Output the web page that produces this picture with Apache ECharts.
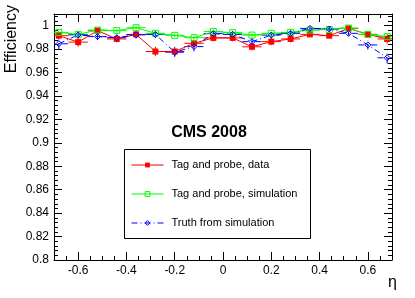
<!DOCTYPE html>
<html>
<head>
<meta charset="utf-8">
<script src="https://cdn.jsdelivr.net/npm/echarts@6/dist/echarts.min.js"></script>
<style>html,body{margin:0;padding:0;background:#fff;}#c{width:415px;height:298px;}</style>
</head>
<body>
<div id="c"></div>
<script>
// ---- data ----
const etaBins = [-0.68,-0.60,-0.52,-0.44,-0.36,-0.28,-0.20,-0.12,-0.04,0.04,0.12,0.20,0.28,0.36,0.44,0.52,0.60,0.68];
const etaHalfWidth = [0.04,0.04,0.04,0.04,0.04,0.04,0.04,0.04,0.04,0.04,0.04,0.04,0.04,0.04,0.04,0.04,0.04,0.04];
const tpData    = [0.9915,0.9860,0.9958,0.9887,0.9926,0.9780,0.9780,0.9850,0.9896,0.9896,0.9820,0.9864,0.9887,0.9926,0.9915,0.9977,0.9926,0.9887];
const tpDataErr = [0.003,0.004,0.002,0.003,0.003,0.004,0.004,0.003,0.003,0.003,0.003,0.003,0.003,0.002,0.002,0.002,0.003,0.004];
const tpSim     = [0.9943,0.9926,0.9963,0.9958,0.9983,0.9935,0.9918,0.9898,0.9950,0.9941,0.9920,0.9935,0.9943,0.9963,0.9968,0.9980,0.9926,0.9907];
const tpSimErr  = [0.0015,0.0015,0.0015,0.0015,0.0015,0.0015,0.0015,0.0015,0.0015,0.0015,0.0015,0.0015,0.0015,0.0015,0.0015,0.0015,0.0015,0.0015];
const truthSim  = [0.9846,0.9922,0.9907,0.9898,0.9922,0.9926,0.9774,0.9822,0.9932,0.9926,0.9864,0.9920,0.9935,0.9977,0.9972,0.9935,0.9836,0.9726];
const truthErr  = [0.005,0.003,0.003,0.003,0.003,0.003,0.004,0.004,0.003,0.002,0.003,0.003,0.002,0.002,0.002,0.002,0.004,0.005];
const seriesNames = ['Tag and probe, data','Tag and probe, simulation','Truth from simulation'];
const xTickLabels = [-0.6,-0.4,-0.2,0,0.2,0.4,0.6];
const yTickLabels = [0.8,0.82,0.84,0.86,0.88,0.9,0.92,0.94,0.96,0.98,1];
const xMin = -0.7, xMax = 0.7, yMin = 0.8, yMax = 1.01;

// minor tick positions
const xMinor = [];
for (let k = -14; k <= 14; k++) { if (k % 4 !== 0) xMinor.push(+(k*0.05).toFixed(3)); }
const yMinor = [];
for (let k = 0; k <= 52; k++) { if (k % 5 !== 0) yMinor.push(+(0.8 + k*0.004).toFixed(4)); }

const FONT = 'Liberation Sans';
const RED = '#ff0000', GREEN = '#00ff00', BLUE = '#0000ff';
const DASHDOT = [6,3,1,3];

function rows(vals, errs) {
  return etaBins.map((x,i) => [x, vals[i], etaHalfWidth[i], errs[i]]);
}
function errSeries(vals, errs, color, dash) {
  return {
    type: 'custom', xAxisIndex: 0, yAxisIndex: 0, clip: true, silent: true,
    data: rows(vals, errs),
    renderItem: function(params, api) {
      const x = api.value(0), y = api.value(1), ex = api.value(2), ey = api.value(3);
      const a = api.coord([x-ex, y]), b = api.coord([x+ex, y]);
      const c = api.coord([x, y-ey]), d = api.coord([x, y+ey]);
      const st = {stroke: color, lineWidth: 1, lineDash: dash || null, fill: null};
      return {type:'group', children:[
        {type:'line', shape:{x1:a[0],y1:a[1],x2:b[0],y2:b[1]}, style:st},
        {type:'line', shape:{x1:c[0],y1:c[1],x2:d[0],y2:d[1]}, style:st}
      ]};
    }
  };
}
function lineSeries(name, vals, color, symbol, filled, dash) {
  return {
    name: name, type: 'line', xAxisIndex: 0, yAxisIndex: 0,
    data: etaBins.map((x,i) => [x, vals[i]]),
    symbol: symbol, symbolSize: 6, showAllSymbol: true,
    lineStyle: {color: color, width: 1, type: dash || 'solid'},
    itemStyle: filled ? {color: color, borderWidth: 0} : {color: 'transparent', borderColor: color, borderWidth: 1},
    emphasis: {disabled: true}, animation: false
  };
}

function axisBase(extra) {
  return Object.assign({
    type: 'value', splitLine: {show: false},
    axisLine: {show: true, onZero: false, lineStyle: {color: '#000', width: 1}},
    axisLabel: {show: false},
    axisTick: {show: true, inside: true, length: 8, lineStyle: {color: '#000', width: 1}}
  }, extra);
}

const chart = echarts.init(document.getElementById('c'), null, {renderer: 'canvas'});
chart.setOption({
  animation: false,
  backgroundColor: '#fff',
  grid: [
    {left: 54, right: 23, top: 14, bottom: 38},
    {left: 54, right: 23, top: 14, bottom: 38}
  ],
  xAxis: [
    axisBase({gridIndex: 0, position: 'bottom', min: xMin, max: xMax,
      axisTick: {show: true, inside: true, length: 8, customValues: xTickLabels, lineStyle: {color: '#000'}},
      axisLabel: {show: true, customValues: xTickLabels, margin: 5, color: '#000', fontSize: 12, fontFamily: FONT}}),
    axisBase({gridIndex: 0, position: 'top', min: xMin, max: xMax,
      axisTick: {show: true, inside: true, length: 8, customValues: xTickLabels, lineStyle: {color: '#000'}}}),
    axisBase({gridIndex: 1, position: 'bottom', min: xMin, max: xMax, axisLine: {show: false, onZero: false},
      axisTick: {show: true, inside: true, length: 4, customValues: xMinor, lineStyle: {color: '#000'}}}),
    axisBase({gridIndex: 1, position: 'top', min: xMin, max: xMax, axisLine: {show: false, onZero: false},
      axisTick: {show: true, inside: true, length: 4, customValues: xMinor, lineStyle: {color: '#000'}}})
  ],
  yAxis: [
    axisBase({gridIndex: 0, position: 'left', min: yMin, max: yMax,
      axisTick: {show: true, inside: true, length: 8, customValues: yTickLabels, lineStyle: {color: '#000'}},
      axisLabel: {show: true, customValues: yTickLabels, margin: 5, color: '#000', fontSize: 12, fontFamily: FONT}}),
    axisBase({gridIndex: 0, position: 'right', min: yMin, max: yMax,
      axisTick: {show: true, inside: true, length: 8, customValues: yTickLabels, lineStyle: {color: '#000'}}}),
    axisBase({gridIndex: 1, position: 'left', min: yMin, max: yMax, axisLine: {show: false, onZero: false},
      axisTick: {show: true, inside: true, length: 4, customValues: yMinor, lineStyle: {color: '#000'}}}),
    axisBase({gridIndex: 1, position: 'right', min: yMin, max: yMax, axisLine: {show: false, onZero: false},
      axisTick: {show: true, inside: true, length: 4, customValues: yMinor, lineStyle: {color: '#000'}}})
  ],
  legend: {
    data: [
      {name: seriesNames[0], itemStyle: {color: RED, borderWidth: 0}, lineStyle: {color: RED, width: 1, type: 'solid'}},
      {name: seriesNames[1], itemStyle: {color: 'transparent', borderColor: GREEN, borderWidth: 1}, lineStyle: {color: GREEN, width: 1, type: 'solid'}},
      {name: seriesNames[2], itemStyle: {color: 'transparent', borderColor: BLUE, borderWidth: 1}, lineStyle: {color: BLUE, width: 1, type: DASHDOT}}
    ],
    orient: 'vertical', left: 131, top: 158, padding: 0,
    itemWidth: 32, itemHeight: 6, itemGap: 15, selectedMode: false,
    lineStyle: {width: 1},
    textStyle: {fontSize: 11, fontFamily: FONT, color: '#000', lineHeight: 14, padding: [0,0,0,3]}
  },
  graphic: [
    {type: 'rect', shape: {x: 124.5, y: 149.5, width: 186, height: 89}, style: {fill: null, stroke: '#000', lineWidth: 1}, z: 10},
    {type: 'text', x: 209, y: 133, style: {text: 'CMS 2008', font: 'bold 16px "Liberation Sans"', fill: '#000', textAlign: 'center', textVerticalAlign: 'middle'}},
    {type: 'text', x: 12, y: 5, rotation: Math.PI/2, style: {text: 'Efficiency', font: '16px "Liberation Sans"', fill: '#000', textAlign: 'right', textVerticalAlign: 'middle'}},
    {type: 'text', x: 397, y: 283, style: {text: 'η', font: '16px "Liberation Sans"', fill: '#000', textAlign: 'right', textVerticalAlign: 'middle'}}
  ],
  series: [
    errSeries(tpData, tpDataErr, RED, null),
    lineSeries(seriesNames[0], tpData, RED, 'rect', true, null),
    errSeries(tpSim, tpSimErr, GREEN, null),
    lineSeries(seriesNames[1], tpSim, GREEN, 'rect', false, null),
    errSeries(truthSim, truthErr, BLUE, DASHDOT),
    lineSeries(seriesNames[2], truthSim, BLUE, 'diamond', false, DASHDOT)
  ]
});
</script>
</body>
</html>
